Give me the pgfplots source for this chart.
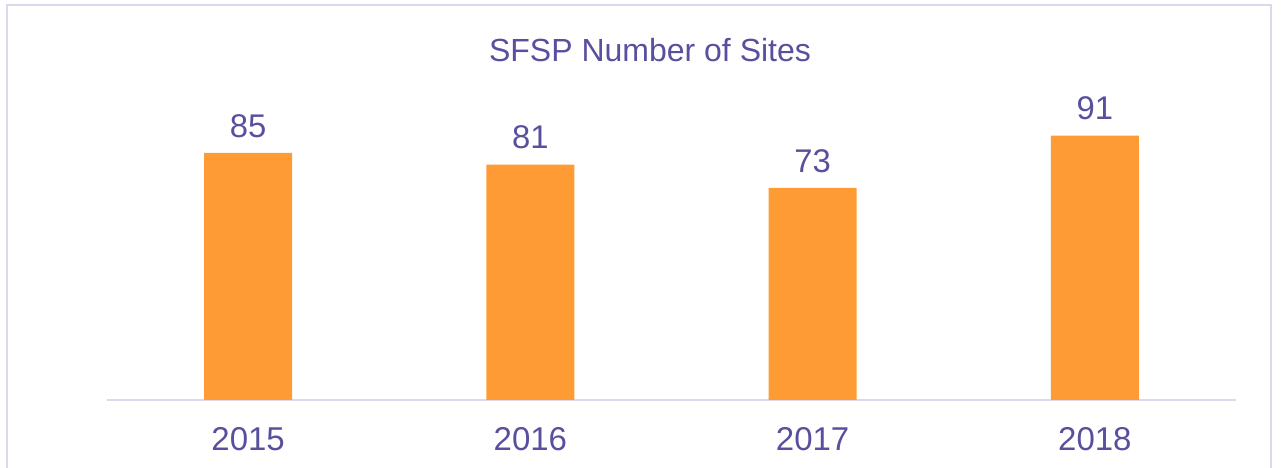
\documentclass[border=0pt]{standalone}
\usepackage{pgfplots}
\pgfplotsset{compat=1.18}
\usepackage{fontspec}
\setmainfont{Liberation Sans}
\definecolor{txt}{RGB}{88,80,158}
\definecolor{barc}{RGB}{255,155,53}
\definecolor{linec}{RGB}{217,216,236}
\begin{document}
\begin{tikzpicture}
\path[use as bounding box] (0pt,0pt) rectangle (641pt,233.5pt);
\begin{scope}
\clip (0pt,0pt) rectangle (641pt,233.5pt);
\draw[linec, line width=1pt] (3.5pt,-10pt) -- (3.5pt,231pt) -- (635.5pt,231pt) -- (635.5pt,-10pt);
\end{scope}
\node[text=txt, font=\fontsize{16}{18}\selectfont] at (325pt,208.5pt) {SFSP Number of Sites};
\begin{axis}[
  at={(53.5pt,33.5pt)}, anchor=south west,
  scale only axis, width=564.5pt, height=145.3pt,
  xmin=-0.5, xmax=3.5, ymin=0, ymax=100,
  axis x line=bottom, axis y line=none,
  x axis line style={linec, line width=1pt, -},
  xtick=data, xticklabels={2015,2016,2017,2018},
  major tick length=0pt,
  ytick=\empty,
  ticklabel style={text=txt, font=\fontsize{16.5}{18}\selectfont},
  xticklabel style={yshift=-10pt},
  /pgf/number format/assume math mode=true,
  ybar, bar width=0.312,
  nodes near coords,
  every node near coord/.style={text=txt, font=\fontsize{16.4}{18}\selectfont, anchor=south, inner sep=0pt, yshift=7.5pt},
  clip=false,
]
\addplot[fill=barc, draw=none] coordinates {(0,85) (1,81) (2,73) (3,91)};
\end{axis}
\end{tikzpicture}
\end{document}
